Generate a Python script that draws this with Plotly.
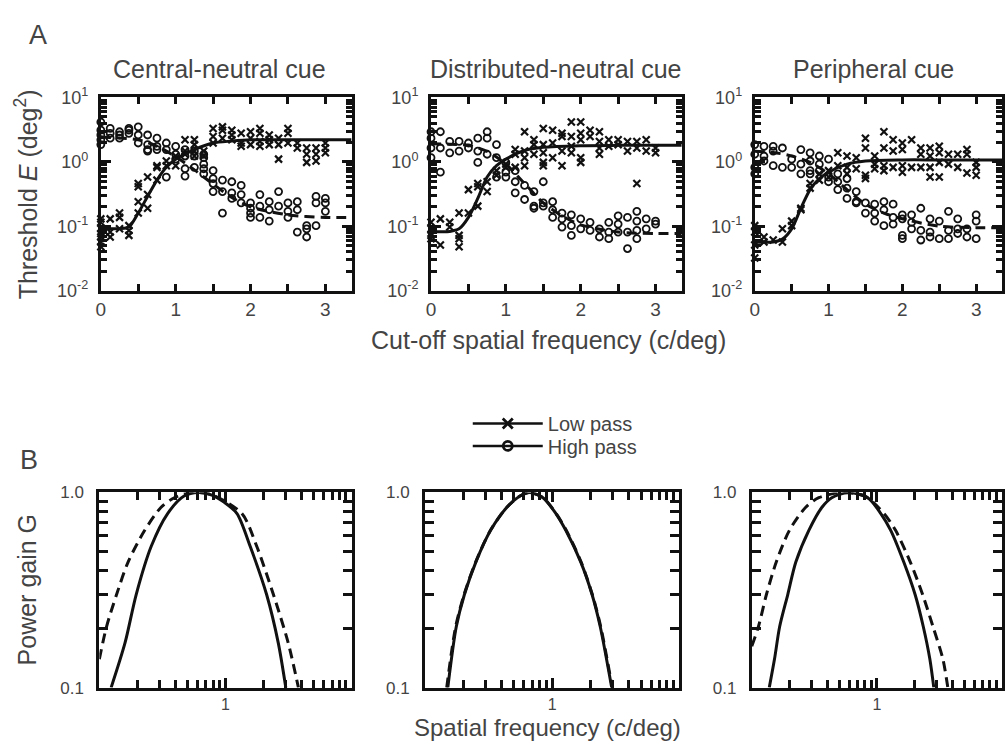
import plotly.graph_objects as go

W, H = 1005, 751

# ---------------- data: panel A (threshold vs cut-off frequency) ----------------
cutoff = [0, 0.125, 0.25, 0.375, 0.5, 0.625, 0.75, 0.875, 1.0, 1.125, 1.25, 1.375,
          1.5, 1.625, 1.75, 1.875, 2.0, 2.125, 2.25, 2.375, 2.5, 2.625, 2.75, 2.875, 3.0]

central_low = [
    [0.13, 0.115, 0.091, 0.077, 0.068, 0.057, 0.048], [0.13, 0.081, 0.068], [0.16, 0.137, 0.091],
    [0.102, 0.086, 0.072], [0.46, 0.41, 0.24, 0.16], [0.58, 0.31, 0.19], [0.87, 0.82, 0.52],
    [1.03, 0.87], [1.23, 0.87], [2.2, 1.47, 1.31], [2.2, 1.85, 1.47, 1.23], [1.47, 1.23],
    [3.3, 2.47, 1.96], [3.49, 3.1, 2.33], [3.1, 2.61, 2.2], [2.77, 1.96, 1.74], [2.93, 2.33, 1.85],
    [3.3, 2.77, 2.07, 1.74], [2.61, 2.2, 1.85], [2.33, 1.85, 1.10], [3.3, 2.77, 1.96], [1.96, 1.64],
    [1.64, 1.31, 0.98], [1.64, 1.31, 1.03], [1.96, 1.64, 1.38]]
central_high = [
    [4.15, 3.1, 2.61, 2.2, 1.85], [3.3, 2.77, 2.33], [2.93, 2.61, 2.33], [3.3, 3.1, 2.77],
    [3.49, 2.61, 1.96], [2.61, 1.85, 1.55, 1.47], [2.33, 1.74, 1.55], [1.96, 1.55, 0.58],
    [1.74, 1.31, 1.10], [1.55, 1.23, 0.78, 0.60], [1.47, 1.23, 0.82], [1.31, 1.16, 0.92, 0.78, 0.65],
    [0.73, 0.55, 0.46, 0.345], [0.52, 0.345, 0.16], [0.49, 0.33, 0.27], [0.43, 0.31, 0.23],
    [0.23, 0.19, 0.16, 0.137], [0.31, 0.205, 0.137], [0.24, 0.18, 0.12], [0.345, 0.205],
    [0.23, 0.17, 0.137], [0.24, 0.18, 0.081], [0.102, 0.091, 0.068], [0.29, 0.23, 0.102],
    [0.27, 0.23, 0.17]]
distributed_low = [
    [0.115, 0.091, 0.072, 0.064], [0.13, 0.051], [0.115, 0.097], [0.16, 0.072, 0.064, 0.048],
    [0.37, 0.16], [0.46, 0.41, 0.205], [0.49, 0.345], [0.73, 0.62], [0.92, 0.82],
    [1.55, 1.31, 0.82], [2.93, 1.47, 1.16, 0.87], [2.2, 1.85, 1.31], [3.3, 1.85, 1.38, 0.98, 0.87],
    [3.1, 1.96, 1.16], [2.77, 2.47, 1.47, 0.87], [4.15, 2.47, 1.74, 1.38], [4.15, 2.77, 2.2, 1.16, 0.98],
    [3.1, 2.47], [2.93, 2.07, 1.64, 1.31], [2.2, 1.74], [2.2, 1.85], [2.07, 1.47],
    [2.07, 1.64, 0.46], [2.2, 1.47], [1.64, 1.38]]
distributed_high = [
    [2.93, 2.33, 1.64, 1.16], [2.93, 1.64, 0.69], [2.07, 1.38], [2.07, 1.47], [1.96, 1.64],
    [2.33, 1.47, 0.98], [2.93, 2.33, 1.31], [1.85, 1.16, 0.58], [0.98, 0.69, 0.58],
    [0.73, 0.49, 0.33], [0.43, 0.26], [0.345, 0.205, 0.19], [0.49, 0.23, 0.205],
    [0.24, 0.18, 0.137], [0.16, 0.13, 0.097], [0.15, 0.102, 0.072], [0.13, 0.091],
    [0.115, 0.086], [0.091, 0.068], [0.115, 0.081, 0.064], [0.145, 0.108, 0.081],
    [0.137, 0.081, 0.045], [0.17, 0.12, 0.086, 0.064], [0.13, 0.091], [0.12, 0.108]]
peripheral_low = [
    [0.102, 0.081, 0.051, 0.032], [0.068, 0.057], [0.061], [0.091, 0.057], [0.12, 0.102],
    [0.19, 0.18], [0.46, 0.39], [0.65, 0.52], [0.73, 0.58], [1.38, 0.87], [1.23, 0.82, 0.65],
    [1.16, 0.78], [2.33, 1.64, 0.62, 0.55], [1.23, 0.92, 0.78], [2.93, 1.64, 0.87, 0.73],
    [2.2, 1.47, 0.82], [1.96, 1.55, 0.87, 0.69], [2.2, 0.82], [1.64, 1.31, 0.82],
    [1.64, 1.23, 0.82, 0.58], [1.74, 1.38, 0.98, 0.58], [1.31, 0.92], [1.31, 0.82],
    [1.55, 1.31, 0.67], [0.98, 0.82, 0.62]]
peripheral_high = [
    [1.85, 1.31, 0.82, 0.65], [1.74, 1.23, 1.03], [1.74, 1.47, 0.87], [1.64, 0.82], [1.10, 0.82],
    [1.55, 0.92, 0.65], [1.38, 1.03, 0.73, 0.65], [1.23, 0.92, 0.73], [1.10, 0.58, 0.49],
    [0.65, 0.49, 0.37], [0.55, 0.39, 0.27], [0.345, 0.24, 0.23], [0.23, 0.16], [0.22, 0.16, 0.12],
    [0.24, 0.18, 0.102], [0.22, 0.137, 0.108], [0.15, 0.13, 0.072, 0.064], [0.15, 0.115, 0.091],
    [0.19, 0.086, 0.061], [0.13, 0.081, 0.068], [0.12, 0.064], [0.17, 0.086, 0.064],
    [0.13, 0.091, 0.077], [0.091, 0.068], [0.15, 0.12, 0.064]]

# fitted curves
central_low_fit_x = [0, 0.25, 0.375, 0.5, 0.625, 0.75, 0.875, 1.0, 1.25, 1.5, 1.75, 2.0, 2.5, 3.35]
central_low_fit_y = [0.091, 0.092, 0.097, 0.16, 0.29, 0.52, 0.82, 1.10, 1.55, 1.96, 2.1, 2.2, 2.2, 2.2]
central_high_fit_x = [0, 0.25, 0.5, 0.75, 1.0, 1.25, 1.5, 1.75, 2.0, 2.5, 3.0, 3.35]
central_high_fit_y = [2.4, 2.35, 2.2, 1.75, 1.2, 0.75, 0.45, 0.28, 0.2, 0.15, 0.137, 0.137]
distributed_low_fit_x = [0, 0.25, 0.375, 0.5, 0.625, 0.75, 0.875, 1.0, 1.25, 1.5, 2.0, 2.5, 3.35]
distributed_low_fit_y = [0.083, 0.083, 0.091, 0.137, 0.27, 0.58, 0.87, 1.10, 1.5, 1.68, 1.78, 1.8, 1.8]
distributed_high_fit_x = [0, 0.25, 0.5, 0.75, 1.0, 1.25, 1.5, 1.75, 2.0, 2.5, 3.0, 3.35]
distributed_high_fit_y = [1.9, 1.88, 1.8, 1.45, 0.92, 0.46, 0.23, 0.145, 0.105, 0.081, 0.077, 0.077]
peripheral_low_fit_x = [0, 0.25, 0.375, 0.5, 0.625, 0.75, 0.875, 1.0, 1.25, 1.5, 2.0, 2.5, 3.35]
peripheral_low_fit_y = [0.057, 0.057, 0.063, 0.091, 0.19, 0.37, 0.55, 0.69, 0.92, 1.03, 1.07, 1.07, 1.07]
peripheral_high_fit_x = [0, 0.25, 0.5, 0.75, 1.0, 1.25, 1.5, 1.75, 2.0, 2.5, 3.0, 3.35]
peripheral_high_fit_y = [1.46, 1.40, 1.23, 0.98, 0.65, 0.37, 0.22, 0.16, 0.13, 0.10, 0.095, 0.095]

# ---------------- data: panel B (power gain vs spatial frequency) ----------------
central_gain_solid_f = [0.124, 0.16, 0.196, 0.258, 0.348, 0.47, 0.61, 0.78, 0.98, 1.235, 1.57, 2.12, 2.62, 3.01]
central_gain_solid_g = [0.10, 0.17, 0.30, 0.53, 0.78, 0.96, 1.0, 0.97, 0.89, 0.78, 0.53, 0.30, 0.17, 0.10]
central_gain_dash_f = [0.1, 0.114, 0.137, 0.169, 0.229, 0.309, 0.393, 0.53, 0.76, 1.35, 1.77, 2.40, 3.14, 3.79]
central_gain_dash_g = [0.14, 0.205, 0.30, 0.44, 0.64, 0.84, 0.94, 1.0, 0.98, 0.78, 0.53, 0.30, 0.17, 0.10]
distributed_gain_solid_f = [0.151, 0.176, 0.204, 0.251, 0.328, 0.441, 0.559, 0.668, 0.847, 1.07, 1.28, 1.68, 2.06, 2.39, 2.94]
distributed_gain_solid_g = [0.10, 0.205, 0.30, 0.44, 0.64, 0.84, 0.96, 1.0, 0.94, 0.78, 0.64, 0.44, 0.30, 0.205, 0.10]
distributed_gain_dash_f = [0.148, 0.174, 0.203, 0.25, 0.327, 0.44, 0.558, 0.668, 0.85, 1.075, 1.29, 1.69, 2.07, 2.41, 2.97]
distributed_gain_dash_g = [0.10, 0.205, 0.30, 0.44, 0.64, 0.84, 0.96, 1.0, 0.94, 0.78, 0.64, 0.44, 0.30, 0.205, 0.10]
peripheral_gain_solid_f = [0.138, 0.152, 0.167, 0.194, 0.225, 0.286, 0.364, 0.436, 0.589, 0.846, 1.075, 1.29, 1.64, 2.02, 2.35, 2.65, 2.85]
peripheral_gain_solid_g = [0.10, 0.14, 0.205, 0.30, 0.44, 0.64, 0.84, 0.94, 1.0, 0.94, 0.78, 0.64, 0.44, 0.30, 0.205, 0.14, 0.10]
peripheral_gain_dash_f = [0.1, 0.113, 0.131, 0.157, 0.20, 0.27, 0.343, 0.522, 0.796, 1.14, 1.41, 1.85, 2.32, 2.81, 3.37, 3.69]
peripheral_gain_dash_g = [0.163, 0.205, 0.30, 0.44, 0.64, 0.84, 0.94, 1.0, 0.96, 0.78, 0.64, 0.44, 0.30, 0.205, 0.14, 0.10]

panel_titles = ["Central-neutral cue", "Distributed-neutral cue", "Peripheral cue"]
top_ytick_vals = [0.01, 0.1, 1, 10]
top_ytick_text = ["10<sup>-2</sup>", "10<sup>-1</sup>", "10<sup>0</sup>", "10<sup>1</sup>"]
top_xtick_vals = [0, 1, 2, 3]
top_xtick_text = ["0", "1", "2", "3"]
top_xminor_vals = [0.5, 1.5, 2.5]
bot_ytick_vals = [0.1, 1.0]
bot_ytick_text = ["0.1", "1.0"]
bot_xtick_vals = [1]
bot_xtick_text = ["1"]

# ---------------- styling / layout ----------------
FONT = "Liberation Sans, Arial, Helvetica, sans-serif"
TXT = "#444444"
INK = "#111111"

def fx(a, b):
    return [a / W, b / W]

def fy(top, bottom):
    return [1 - bottom / H, 1 - top / H]

top_x_dom = [fx(96.5, 349), fx(429, 681.5), fx(755, 1004)]
top_y_dom = fy(88, 287)
bot_x_dom = [fx(95, 349), fx(423, 679), fx(752, 1004)]
bot_y_dom = fy(495, 696)

def flat(cols):
    xs, ys = [], []
    for f, vals in zip(cutoff, cols):
        for v in vals:
            xs.append(f)
            ys.append(v)
    return xs, ys

fig = go.Figure()

top_sets = [
    (central_low, central_high, central_low_fit_x, central_low_fit_y, central_high_fit_x, central_high_fit_y),
    (distributed_low, distributed_high, distributed_low_fit_x, distributed_low_fit_y, distributed_high_fit_x, distributed_high_fit_y),
    (peripheral_low, peripheral_high, peripheral_low_fit_x, peripheral_low_fit_y, peripheral_high_fit_x, peripheral_high_fit_y),
]
bot_sets = [
    (central_gain_solid_f, central_gain_solid_g, central_gain_dash_f, central_gain_dash_g),
    (distributed_gain_solid_f, distributed_gain_solid_g, distributed_gain_dash_f, distributed_gain_dash_g),
    (peripheral_gain_solid_f, peripheral_gain_solid_g, peripheral_gain_dash_f, peripheral_gain_dash_g),
]

x_marker = dict(symbol="x-thin", size=7, color=INK, line=dict(width=2.2, color=INK))
o_marker = dict(symbol="circle-open", size=7, color=INK, line=dict(width=1.8, color=INK))

for i, (lo, hi, lfx, lfy, hfx, hfy) in enumerate(top_sets):
    xa = "x" if i == 0 else f"x{i + 1}"
    ya = "y" if i == 0 else f"y{i + 1}"
    hx, hy = flat(hi)
    lx, ly = flat(lo)
    fig.add_trace(go.Scatter(x=hx, y=hy, mode="markers", marker=o_marker, xaxis=xa, yaxis=ya,
                             showlegend=False, cliponaxis=False))
    fig.add_trace(go.Scatter(x=lx, y=ly, mode="markers", marker=x_marker, xaxis=xa, yaxis=ya,
                             showlegend=False, cliponaxis=False))
    fig.add_trace(go.Scatter(x=hfx, y=hfy, mode="lines", line=dict(color=INK, width=3, dash="10px,6px",
                             shape="spline", smoothing=0.8), xaxis=xa, yaxis=ya, showlegend=False))
    fig.add_trace(go.Scatter(x=lfx, y=lfy, mode="lines", line=dict(color=INK, width=3, shape="spline",
                             smoothing=0.8), xaxis=xa, yaxis=ya, showlegend=False))

for i, (sf, sg, df, dg) in enumerate(bot_sets):
    xa = f"x{i + 4}"
    ya = f"y{i + 4}"
    fig.add_trace(go.Scatter(x=df, y=dg, mode="lines", line=dict(color=INK, width=3, dash="10px,6px",
                             shape="spline", smoothing=0.8), xaxis=xa, yaxis=ya, showlegend=False))
    fig.add_trace(go.Scatter(x=sf, y=sg, mode="lines", line=dict(color=INK, width=3, shape="spline",
                             smoothing=0.8), xaxis=xa, yaxis=ya, showlegend=False))

# legend entries (one legend per row so the row spacing matches the original)
fig.add_trace(go.Scatter(x=[None], y=[None], mode="lines+markers", name="Low pass", legend="legend",
                         line=dict(color=INK, width=2.5),
                         marker=dict(symbol="x-thin", size=10, color=INK, line=dict(width=2.8, color=INK))))
fig.add_trace(go.Scatter(x=[None], y=[None], mode="lines+markers", name="High pass", legend="legend2",
                         line=dict(color=INK, width=2.5),
                         marker=dict(symbol="circle-open", size=9, color=INK, line=dict(width=2.8, color=INK))))

common = dict(showline=True, linecolor=INK, linewidth=3, mirror="ticks", ticks="inside",
              tickcolor=INK, tickwidth=2.5, showgrid=False, zeroline=False)

leg_common = dict(xanchor="left", yanchor="middle", bgcolor="rgba(0,0,0,0)",
                  font=dict(family=FONT, size=20, color=TXT), itemwidth=70, tracegroupgap=0)

layout = dict(width=W, height=H, margin=dict(l=0, r=0, t=0, b=0),
              paper_bgcolor="white", plot_bgcolor="white",
              font=dict(family=FONT, color=TXT), showlegend=True,
              legend=dict(leg_common, x=466 / W, y=1 - 424 / H),
              legend2=dict(leg_common, x=466 / W, y=1 - 447 / H))

top_minor_y = [m * d for d in (0.01, 0.1, 1) for m in range(2, 10)]
bot_minor_y = [m * 0.1 for m in range(2, 10)]
bot_minor_x = [m * d for d in (0.1, 1) for m in range(2, 10)]

for i in range(3):
    k = "" if i == 0 else str(i + 1)
    layout["xaxis" + k] = dict(common, domain=top_x_dom[i], range=[0, 3.35], anchor="y" + k,
                              tickmode="array", tickvals=top_xtick_vals, ticktext=top_xtick_text,
                              ticklen=7, tickfont=dict(family=FONT, color=TXT, size=19),
                              minor=dict(tickmode="array", tickvals=top_xminor_vals, ticks="inside",
                                         ticklen=7, tickwidth=2.5, tickcolor=INK, showgrid=False))
    layout["yaxis" + k] = dict(common, domain=top_y_dom, type="log", range=[-2, 1], anchor="x" + k,
                              tickmode="array", tickvals=top_ytick_vals, ticktext=top_ytick_text,
                              ticklen=10, ticklabelstandoff=6,
                              tickfont=dict(family=FONT, color=TXT, size=18),
                              minor=dict(tickmode="array", tickvals=top_minor_y, ticks="inside",
                                         ticklen=6, tickwidth=2.5, tickcolor=INK, showgrid=False))
    kb = str(i + 4)
    layout["xaxis" + kb] = dict(common, domain=bot_x_dom[i], type="log", range=[-1, 1], anchor="y" + kb,
                               tickmode="array", tickvals=bot_xtick_vals, ticktext=bot_xtick_text,
                               ticklen=10, ticklabelstandoff=0,
                               tickfont=dict(family=FONT, color=TXT, size=16),
                               minor=dict(tickmode="array", tickvals=bot_minor_x, ticks="inside",
                                          ticklen=8, tickwidth=2.5, tickcolor=INK, showgrid=False))
    layout["yaxis" + kb] = dict(common, domain=bot_y_dom, type="log", range=[-1, 0], anchor="x" + kb,
                               tickmode="array", tickvals=bot_ytick_vals, ticktext=bot_ytick_text,
                               ticklen=10, ticklabelstandoff=9,
                               tickfont=dict(family=FONT, color=TXT, size=17),
                               minor=dict(tickmode="array", tickvals=bot_minor_y, ticks="inside",
                                          ticklen=9, tickwidth=2.5, tickcolor=INK, showgrid=False))

def ann(text, x, y, size, angle=0):
    return dict(text=text, x=x / W, y=1 - y / H, xref="paper", yref="paper", showarrow=False,
                xanchor="center", yanchor="middle", textangle=angle,
                font=dict(family=FONT, size=size, color=TXT))

title_x = [216, 555, 875]
annotations = [ann(t, x, 59, 25) for t, x in zip(panel_titles, title_x)]
annotations += [
    ann("A", 33, 24, 27),
    ann("B", 24, 462, 27),
    ann("Threshold <i>E</i> (deg<sup>2</sup>)", 22, 188, 25, -90),
    ann("Cut-off spatial frequency (c/deg)", 547, 338, 25),
    ann("Power gain G", 22, 595, 25, -90),
    ann("Spatial frequency (c/deg)", 546, 737, 24),
]
layout["annotations"] = annotations

fig.update_layout(**layout)
fig.write_html("out.html")
